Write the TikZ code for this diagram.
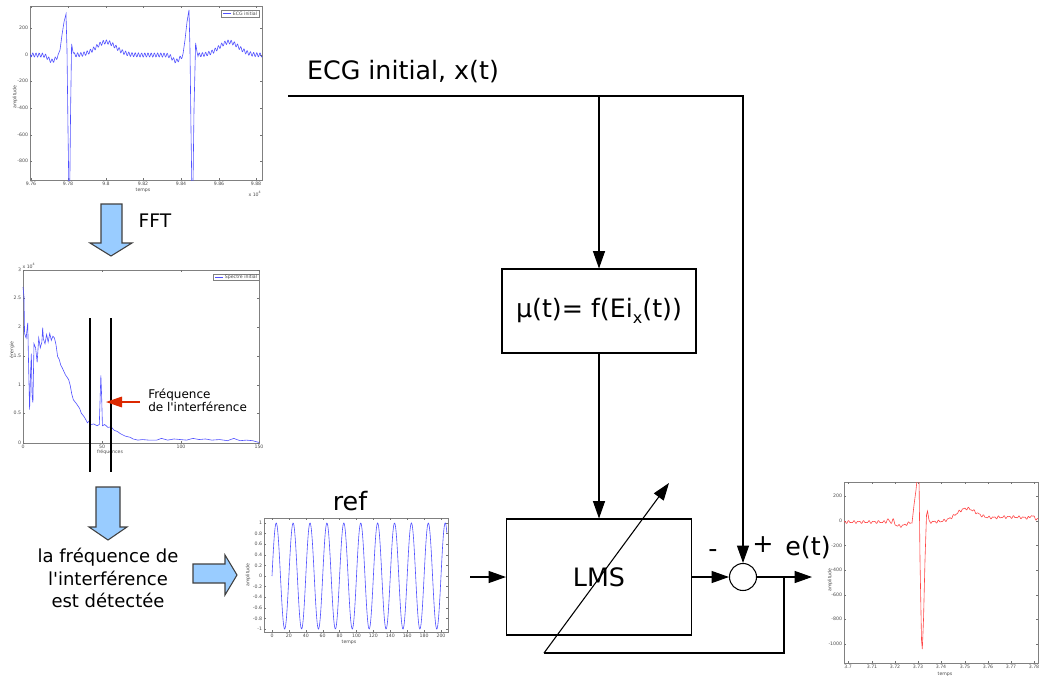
\documentclass[tikz,border=0pt]{standalone}
\usepackage{fontspec}
\setmainfont{DejaVu Sans}
\usepackage{tikz}
\usetikzlibrary{arrows.meta}
\definecolor{bleufleche}{RGB}{153,204,255}
\definecolor{bleucourbe}{RGB}{80,80,255}
\definecolor{rougecourbe}{RGB}{255,70,70}
\definecolor{rougefleche}{RGB}{220,40,0}

\begin{document}
\begin{tikzpicture}[x=0.75pt,y=-0.75pt,
    declare function={ecgbase(\t)=55-2*sin(mod(\t,3.2)*112.5)-13*exp(-((\t-106)/14)^2)-13*exp(-((\t-229)/14)^2)+6*exp(-((\t-52)/5)^2)+6*exp(-((\t-176)/5)^2);
      ebase(\t)=522+0.9*sin(mod(\t,5)*72)+0.6*sin(mod(\t,3)*120)+4*exp(-((\t-900)/8)^2)-3*exp(-((\t-888)/1.5)^2)-4*exp(-((\t-893)/1.5)^2)-12*exp(-((\t-966)/14)^2)-5*exp(-((\t-1010)/40)^2)-3*exp(-((\t-1032)/2)^2);},
    bloc/.style={draw,line width=0.8pt,inner sep=0pt},
    ligne/.style={line width=0.8pt},
    fleche/.style={line width=0.8pt,-{Triangle[length=13pt,width=9pt]}},
    flecherouge/.style={draw=rougefleche,line width=0.8pt,-{Triangle[length=12pt,width=8pt]}},
    grossefleche/.style={draw=black!75,fill=bleufleche,line width=0.8pt},
    texte/.style={font=\fontsize{19}{19}\selectfont,inner sep=0pt},
    cadre/.style={draw=black!50,line width=0.4pt},
    graduation/.style={draw=black!55,line width=0.3pt},
    petit/.style={font=\fontsize{3.5}{4}\selectfont,text=black!70,inner sep=0.5pt},
    courbebleue/.style={draw=bleucourbe,line width=0.45pt},
    courberouge/.style={draw=rougecourbe,line width=0.45pt}]
\useasboundingbox (0,0) rectangle (1039,679);
\fill[white] (0,0) rectangle (1039,679);

% ---- ECG initial ----
\draw[cadre] (30,6) rectangle (262,180);
\foreach \v/\yy [count=\i] in {200/28,0/55,-200/81,-400/108,-600/135,-800/161}{
  \draw[graduation] (30,\yy) -- ++(2,0) (262,\yy) -- ++(-2,0);
  \node[petit,anchor=east] (ecgy\i) at (29,\yy) {\v};
}
\foreach \v/\xx [count=\i] in {9.76/31,9.78/68,9.8/106,9.82/143,9.84/181,9.86/219,9.88/256}{
  \draw[graduation] (\xx,180) -- ++(0,-2) (\xx,6) -- ++(0,2);
  \node[petit,anchor=north] (ecgx\i) at (\xx,181) {\v};
}
\node[petit] (ecgtemps) at (143,190) {temps};
\node[petit,rotate=90] (ecgamp) at (15,97) {amplitude};
\node[petit] (ecgpuiss) at (255,194) {x 10\textsuperscript{4}};
\begin{scope}
  \clip (30,6) rectangle (262,180);
  \draw[courbebleue] plot[domain=30:58,samples=60] (\x,{ecgbase(\x)})
    -- (60,50) -- (62,35) -- (64,22) -- (66,14) -- (67,50) -- (68,130) -- (68.8,185)
    -- (69.8,185) -- (70.6,110) -- (71.6,44) -- (73,52)
    -- plot[domain=74:183,samples=250] (\x,{ecgbase(\x)})
    -- (185,40) -- (187,22) -- (189,10) -- (190,50) -- (191,130) -- (191.8,185)
    -- (193,185) -- (194,110) -- (195.6,43) -- (197,52)
    -- plot[domain=198:262,samples=150] (\x,{ecgbase(\x)});
\end{scope}
\draw[cadre,fill=white] (221,10) rectangle (259,17);
\draw[courbebleue] (223,13.5) -- (231,13.5);
\node[petit,anchor=west] (ecgleg) at (232,13.5) {ECG initial};

% ---- FFT ----
\filldraw[grossefleche] (101,204) -- (122,204) -- (122,243) -- (132,243) -- (111,256)
  -- (90,243) -- (101,243) -- cycle;
\node[anchor=west,font=\fontsize{14}{14}\selectfont] (fft) at (134,221) {FFT};

% ---- Spectre initial ----
\draw[cadre] (23,270) rectangle (259,443);
\foreach \v/\yy [count=\i] in {3/270,2.5/298,2/327,1.5/356,1/385,0.5/413,0/443}{
  \draw[graduation] (23,\yy) -- ++(2,0) (259,\yy) -- ++(-2,0);
  \node[petit,anchor=east] (spy\i) at (22,\yy) {\v};
}
\foreach \v/\xx [count=\i] in {0/23,50/102,100/181,150/259}{
  \draw[graduation] (\xx,443) -- ++(0,-2) (\xx,270) -- ++(0,2);
  \node[petit,anchor=north] (spx\i) at (\xx,444) {\v};
}
\node[petit] (sptemps) at (110,452) {fréquences};
\node[petit,rotate=90] (spener) at (12,350) {énergie};
\node[petit] (sppuiss) at (29,266) {x 10\textsuperscript{4}};
\begin{scope}[shift={(23,443)},xscale=1.573,yscale=-57.7]
  \draw[courbebleue] plot coordinates {(0,2.7) (0.6,2.55) (1,1.9) (2,1.82) (3,2.08) (3.6,1.3)
    (4.2,0.58) (4.8,1.2) (5.3,1.55) (5.8,0.8) (6.3,0.7) (7,1.72) (8,1.65) (9,1.4) (10,1.82)
    (11,1.65) (12,1.75) (12.5,2.0) (13,1.8) (14,1.72) (15,1.88) (16,1.75) (17,1.9) (18,1.78)
    (19,1.85) (20,1.82) (21,1.7) (22,1.5) (23,1.45) (24,1.35) (25,1.3) (27,1.18) (29,1.1)
    (30,1.0) (31,0.85) (32,0.75) (34,0.68) (36,0.6) (37,0.52) (39,0.45) (40,0.4) (41,0.35)
    (42,0.38) (43,0.32) (45,0.33) (47,0.3) (48.5,0.32) (49.5,1.17) (50,0.8) (50.5,0.3)
    (52,0.32) (54,0.27) (56,0.28) (58,0.22) (60,0.2) (62,0.16) (65,0.12) (68,0.1) (70,0.07)
    (73,0.05) (76,0.06) (80,0.05) (85,0.05) (88,0.08) (92,0.05) (96,0.07) (100,0.06)
    (104,0.05) (108,0.08) (112,0.06) (116,0.07) (120,0.05) (125,0.06) (130,0.04) (134,0.08)
    (138,0.04) (142,0.05) (146,0.04) (150,0.01)};
\end{scope}
\draw[cadre,fill=white] (213,274) rectangle (259,280);
\draw[courbebleue] (215,277) -- (223,277);
\node[petit,anchor=west] (spleg) at (224,277) {Spectre initial};
\draw[line width=1pt] (90,318) -- (90,472);
\draw[line width=1pt] (111,318) -- (111,472);
\node[anchor=west,align=left,font=\fontsize{9}{10}\selectfont,inner sep=0pt] (freqint) at (148,400) {Fréquence\\de l\textquotesingle interférence};
\coordinate (departrouge) at (140,402);
\coordinate (pic) at (106,402);
\draw[flecherouge] (departrouge) -- (pic);

% ---- detection ----
\filldraw[grossefleche] (96,487) -- (120,487) -- (120,527) -- (127,527) -- (108,540)
  -- (89,527) -- (96,527) -- cycle;
\node[align=center,font=\fontsize{13.5}{17}\selectfont] (detectee) at (108,578) {la fréquence de\\l\textquotesingle interférence\\est détectée};
\filldraw[grossefleche] (193,564) -- (225,564) -- (225,555) -- (237,575) -- (225,595)
  -- (225,583) -- (193,583) -- cycle;

% ---- ref ----
\node[texte] (reftitre) at (350,501) {ref};
\draw[cadre] (264,518) rectangle (448,632);
\foreach \v [count=\i] in {1,0.8,0.6,0.4,0.2,0,-0.2,-0.4,-0.6,-0.8,-1}{
  \draw[graduation] (264,{576-53*\v}) -- ++(2,0) (448,{576-53*\v}) -- ++(-2,0);
  \node[petit,anchor=east] (refy\i) at (263,{576-53*\v}) {\v};
}
\foreach \v [count=\i] in {0,20,...,200}{
  \draw[graduation] ({272+0.845*\v},632) -- ++(0,-2) ({272+0.845*\v},518) -- ++(0,2);
  \node[petit,anchor=north] (refx\i) at ({272+0.845*\v},633) {\v};
}
\node[petit] (reftemps) at (349,642) {temps};
\node[petit,rotate=90] (refamp) at (248,575) {amplitude};
\begin{scope}
  \clip (264,518) rectangle (448,632);
  \begin{scope}[shift={(272,576)},xscale=0.845,yscale=-53]
    \draw[courbebleue] plot[domain=0:207,samples=400] (\x,{sin(18*\x)});
  \end{scope}
\end{scope}

% ---- e(t) ----
\draw[cadre] (844,482) rectangle (1038,663);
\foreach \v/\yy [count=\i] in {200/496,0/521,-200/545.5,-400/570,-600/595,-800/619,-1000/644}{
  \draw[graduation] (844,\yy) -- ++(2,0) (1038,\yy) -- ++(-2,0);
  \node[petit,anchor=east] (ey\i) at (843,\yy) {\v};
}
\foreach \v/\xx [count=\i] in {3.7/848,3.71/872,3.72/895,3.73/918,3.74/941,3.75/965,3.76/988,3.77/1011,3.78/1034}{
  \draw[graduation] (\xx,663) -- ++(0,-2) (\xx,482) -- ++(0,2);
  \node[petit,anchor=north] (ex\i) at (\xx,664) {\v};
}
\node[petit] (etemps) at (945,674) {temps};
\node[petit,rotate=90] (eamp) at (830,580) {amplitude};
\begin{scope}
  \clip (844,482) rectangle (1038,663);
  \draw[courberouge] plot[domain=844:912,samples=200] (\x,{ebase(\x)})
    -- (914,505) -- (916,490) -- (917.5,475) -- (919,475) -- (920,560) -- (921.5,640)
    -- (922.3,649) -- (923.5,620) -- (925,560) -- (926.5,515) -- (927.5,511) -- (929,520)
    -- plot[domain=930:1038,samples=300] (\x,{ebase(\x)});
\end{scope}

% ---- filtre adaptatif ----
\node[texte] (ecgtitre) at (403,72) {ECG initial, x(t)};
\coordinate (entree) at (288,96);
\coordinate (branche) at (599,96);
\node[bloc,texte,draw,minimum width=145.5pt,minimum height=63pt] (mu) at (599,311)
  {μ(t)= f(Ei\raisebox{-5pt}{\fontsize{12}{12}\selectfont x}(t))};
\node[bloc,texte,draw,minimum width=138.75pt,minimum height=87pt] (lms) at (599,577) {LMS};
\node[draw,circle,line width=0.8pt,minimum size=20.25pt,inner sep=0pt] (somme) at (743,577) {};
\draw[fleche] (entree) -| (somme.north);
\draw[fleche] (branche) -- (mu.north);
\draw[fleche] (mu.south) -- (lms.north);
\coordinate (refsortie) at (470,577);
\draw[fleche] (refsortie) -- (lms.west);
\draw[fleche] (lms.east) -- (somme.west);
\coordinate (sortie) at (812,577);
\draw[fleche] (somme.east) -- (sortie);
\coordinate (retour) at (784,577);
\coordinate (adaptbas) at (544,653);
\coordinate (adapthaut) at (669,483);
\draw[ligne] (retour) |- (adaptbas);
\draw[fleche] (adaptbas) -- (adapthaut);
\node[texte] (moins) at (713,554) {-};
\node[texte] (plus) at (763,545) {+};
\node[texte] (et) at (808,548) {e(t)};
\end{tikzpicture}
\end{document}
